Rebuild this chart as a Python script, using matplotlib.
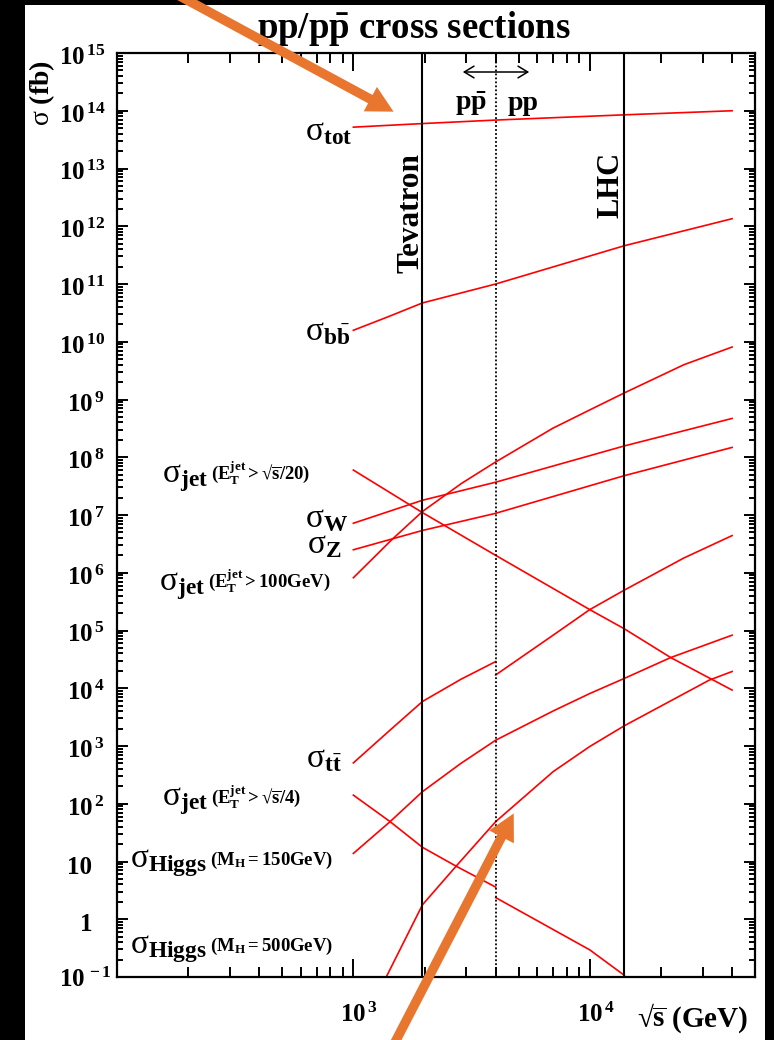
import matplotlib
matplotlib.use('Agg')
import matplotlib.pyplot as plt
from matplotlib.patches import Rectangle, FancyArrowPatch
from matplotlib.ticker import LogLocator, NullFormatter

plt.rcParams['font.family'] = ['Liberation Serif', 'DejaVu Serif']
plt.rcParams['font.weight'] = 'bold'
plt.rcParams['mathtext.fontset'] = 'custom'
plt.rcParams['mathtext.rm'] = 'Liberation Serif:bold'
plt.rcParams['mathtext.bf'] = 'Liberation Serif:bold'
plt.rcParams['mathtext.it'] = 'Liberation Serif:bold:italic'
plt.rcParams['mathtext.sf'] = 'Liberation Serif:regular'
plt.rcParams['mathtext.fallback'] = 'stix'
plt.rcParams['mathtext.default'] = 'rm'

# ---------------- data (sqrt(s) in GeV, sigma in fb) ----------------
tevatron_E = 1960
lhc_E = 14000
switch_E = 4000   # ppbar below, pp above

x_tot = [1000, 1960, 4000, 14000, 40000]
y_tot = [5.2e13, 6.0e13, 6.9e13, 8.5e13, 1.0e14]

x_bb = [1000, 1400, 1960, 4000, 14000, 40000]
y_bb = [1.58e10, 2.7e10, 4.7e10, 1.0e11, 4.6e11, 1.35e12]

x_jet100 = [1000, 1450, 1960, 2860, 4000, 7000, 10000, 14000, 25000, 40000]
y_jet100 = [8.2e5, 3.7e6, 1.15e7, 3.5e7, 8.3e7, 3.2e8, 6.6e8, 1.3e9, 4.0e9, 8.1e9]

x_W = [1000, 1960, 4000, 14000, 40000]
y_W = [7.2e6, 1.8e7, 3.7e7, 1.57e8, 4.7e8]

x_Z = [1000, 1960, 4000, 14000, 40000]
y_Z = [2.5e6, 5.4e6, 1.07e7, 4.8e7, 1.48e8]

x_jet20 = [1000, 1960, 4000, 10000, 14000, 22000, 40000]
y_jet20 = [6.0e7, 1.1e7, 2.0e6, 2.3e5, 1.07e5, 3.4e4, 9.3e3]

x_tt_ppbar = [1000, 1420, 1960, 2850, 4000]
y_tt_ppbar = [510, 1840, 5900, 1.43e4, 2.9e4]
x_tt_pp = [4000, 7000, 10000, 14000, 25000, 40000]
y_tt_pp = [1.7e4, 8.3e4, 2.3e5, 5.0e5, 1.8e6, 4.4e6]

x_jet4_ppbar = [1000, 1430, 1960, 2720, 4000]
y_jet4_ppbar = [141, 49, 17.6, 8.3, 3.6]
x_jet4_pp = [4000, 10000, 14000]
y_jet4_pp = [2.37, 0.295, 0.107]

x_h150 = [1000, 1430, 1960, 2850, 4000, 7000, 10000, 14000, 22000, 40000]
y_h150 = [13.8, 49, 162, 500, 1260, 4040, 8100, 1.48e4, 3.4e4, 8.3e4]

x_h500 = [1350, 1960, 2720, 4000, 7000, 10000, 14000, 32000, 40000]
y_h500 = [0.085, 1.78, 8.3, 49, 360, 980, 2240, 1.38e4, 1.95e4]

ytick_exps = list(range(-1, 16))
xtick_exps = [3, 4]

# ---------------- figure ----------------
W, H = 774, 1040
fig = plt.figure(figsize=(W / 100, H / 100), dpi=100, facecolor='black')


def P(x, y):
    return (x / W, 1 - y / H)


fig.add_artist(Rectangle(P(25, 1040), (765 - 25) / W, (1040 - 5) / H,
                         transform=fig.transFigure, facecolor='white',
                         edgecolor='none', zorder=-5))

L, R, T, B = 117, 755, 53, 977
ax = fig.add_axes([L / W, 1 - B / H, (R - L) / W, (B - T) / H])
ax.set_xscale('log')
ax.set_yscale('log')
ax.set_xlim(100, 50000)
ax.set_ylim(0.1, 1e15)
ax.set_facecolor('white')

for s in ax.spines.values():
    s.set_linewidth(1.6)

ax.xaxis.set_major_locator(LogLocator(base=10, numticks=20))
ax.xaxis.set_minor_locator(LogLocator(base=10, subs=range(2, 10), numticks=50))
ax.yaxis.set_major_locator(LogLocator(base=10, numticks=30))
ax.yaxis.set_minor_locator(LogLocator(base=10, subs=range(2, 10), numticks=200))
ax.xaxis.set_minor_formatter(NullFormatter())
ax.yaxis.set_minor_formatter(NullFormatter())
ax.tick_params(which='both', direction='in', top=True, right=True,
               labelleft=False, labelbottom=False, width=1.4)
ax.tick_params(axis='x', which='major', length=13)
ax.tick_params(axis='x', which='minor', length=7)
ax.tick_params(axis='y', which='major', length=8)
ax.tick_params(axis='y', which='minor', length=4)

red = dict(color='red', lw=1.2)
ax.plot(x_tot, y_tot, **red)
ax.plot(x_bb, y_bb, **red)
ax.plot(x_jet100, y_jet100, **red)
ax.plot(x_W, y_W, **red)
ax.plot(x_Z, y_Z, **red)
ax.plot(x_jet20, y_jet20, **red)
ax.plot(x_tt_ppbar, y_tt_ppbar, **red)
ax.plot(x_tt_pp, y_tt_pp, **red)
ax.plot(x_jet4_ppbar, y_jet4_ppbar, **red)
ax.plot(x_jet4_pp, y_jet4_pp, **red)
ax.plot(x_h150, y_h150, **red)
ax.plot(x_h500, y_h500, **red)

ax.axvline(tevatron_E, color='black', lw=1.5)
ax.axvline(lhc_E, color='black', lw=1.5)
ax.axvline(switch_E, color='black', lw=1.3, ls=(0, (1, 1.2)))

# ---------------- tick labels ----------------
TS = 18
for k in ytick_exps:
    y = 10.0 ** k
    if k == 0:
        lbl, xpx, ha = '1', 92, 'right'
    elif k == 1:
        lbl, xpx, ha = '10', 92, 'right'
    else:
        lbl = r'$\mathrm{10^{\,%d}}$' % k
        xpx = 59 if (k >= 10 or k < 0) else 67
        ha = 'left'
    dy = -10 if k == -1 else -12
    ax.annotate(lbl, xy=(0, y), xycoords=('axes fraction', 'data'),
                xytext=(xpx - L, dy), textcoords='offset pixels',
                ha=ha, va='baseline', fontsize=TS, annotation_clip=False)
for k in xtick_exps:
    ax.annotate(r'$\mathrm{10^{\,%d}}$' % k, xy=(10.0 ** k, 0),
                xycoords=('data', 'axes fraction'),
                xytext=(-13, -45), textcoords='offset pixels',
                ha='left', va='baseline', fontsize=TS, annotation_clip=False)

fig.text(*P(637, 1027), r'$√\overline{\mathrm{s}}$ (GeV)', ha='left', va='baseline', fontsize=21)
fig.text(*P(42, 93), r'$\mathsf{σ}$ (fb)', rotation=90, ha='center', va='center', fontsize=20)
fig.text(*P(414, 28), r'pp/p$\mathrm{\bar{p}}$ cross sections', ha='center', va='center', fontsize=26.5)

# ---------------- in-plot annotations ----------------
fig.text(*P(411, 213), 'Tevatron', rotation=90, ha='center', va='center', fontsize=22.5)
fig.text(*P(611, 185), 'LHC', rotation=90, ha='center', va='center', fontsize=22)
fig.text(*P(471, 110), r'p$\mathrm{\bar{p}}$', ha='center', va='baseline', fontsize=20)
fig.text(*P(523, 110), 'pp', ha='center', va='baseline', fontsize=20)
fig.add_artist(FancyArrowPatch(P(460, 72), P(532, 72), transform=fig.transFigure,
                               arrowstyle='<->,head_length=0.5,head_width=0.3',
                               mutation_scale=14, lw=1.1, color='black'))

SM = 24
SP = 13.5
main_labels = [
    (r'$\mathsf{σ}_{\mathrm{tot}}$', 352, 140),
    (r'$\mathsf{σ}_{\mathrm{b\bar{b}}}$', 350, 340),
    (r'$\mathsf{σ}_{\mathrm{W}}$', 348, 527),
    (r'$\mathsf{σ}_{\mathrm{Z}}$', 342, 553),
    (r'$\mathsf{σ}_{\mathrm{t\bar{t}}}$', 342, 767),
]
for txt, xr, yb in main_labels:
    fig.text(*P(xr, yb), txt, ha='right', va='baseline', fontsize=SM)

split_labels = [
    (r'$\mathsf{σ}_{\mathrm{jet}}$', r'$\mathrm{(E_T^{jet}>√\overline{s}/20)}$', 208, 482),
    (r'$\mathsf{σ}_{\mathrm{jet}}$', r'$\mathrm{(E_T^{jet}>100GeV)}$', 205, 590),
    (r'$\mathsf{σ}_{\mathrm{jet}}$', r'$\mathrm{(E_T^{jet}>√\overline{s}/4)}$', 208, 805),
    (r'$\mathsf{σ}_{\mathrm{Higgs}}$', r'$\mathrm{(M_H{=}150GeV)}$', 207, 867),
    (r'$\mathsf{σ}_{\mathrm{Higgs}}$', r'$\mathrm{(M_H{=}500GeV)}$', 207, 953),
]
for main, par, xs, yb in split_labels:
    fig.text(*P(xs, yb), main, ha='right', va='baseline', fontsize=SM)
    fig.text(*P(xs + 3, yb - 2), par, ha='left', va='baseline', fontsize=SP)

# ---------------- orange arrows (overlay) ----------------
orange = '#E8762F'
for tail, tip in [((176, -6), (396, 113)), ((391, 1050), (515, 811))]:
    fig.add_artist(FancyArrowPatch(P(*tail), P(*tip), transform=fig.transFigure,
                                   arrowstyle='simple,head_length=0.95,head_width=1.0,tail_width=0.34',
                                   mutation_scale=20, color=orange, lw=0, zorder=10))

fig.savefig('out.png', dpi=100, facecolor='black')
